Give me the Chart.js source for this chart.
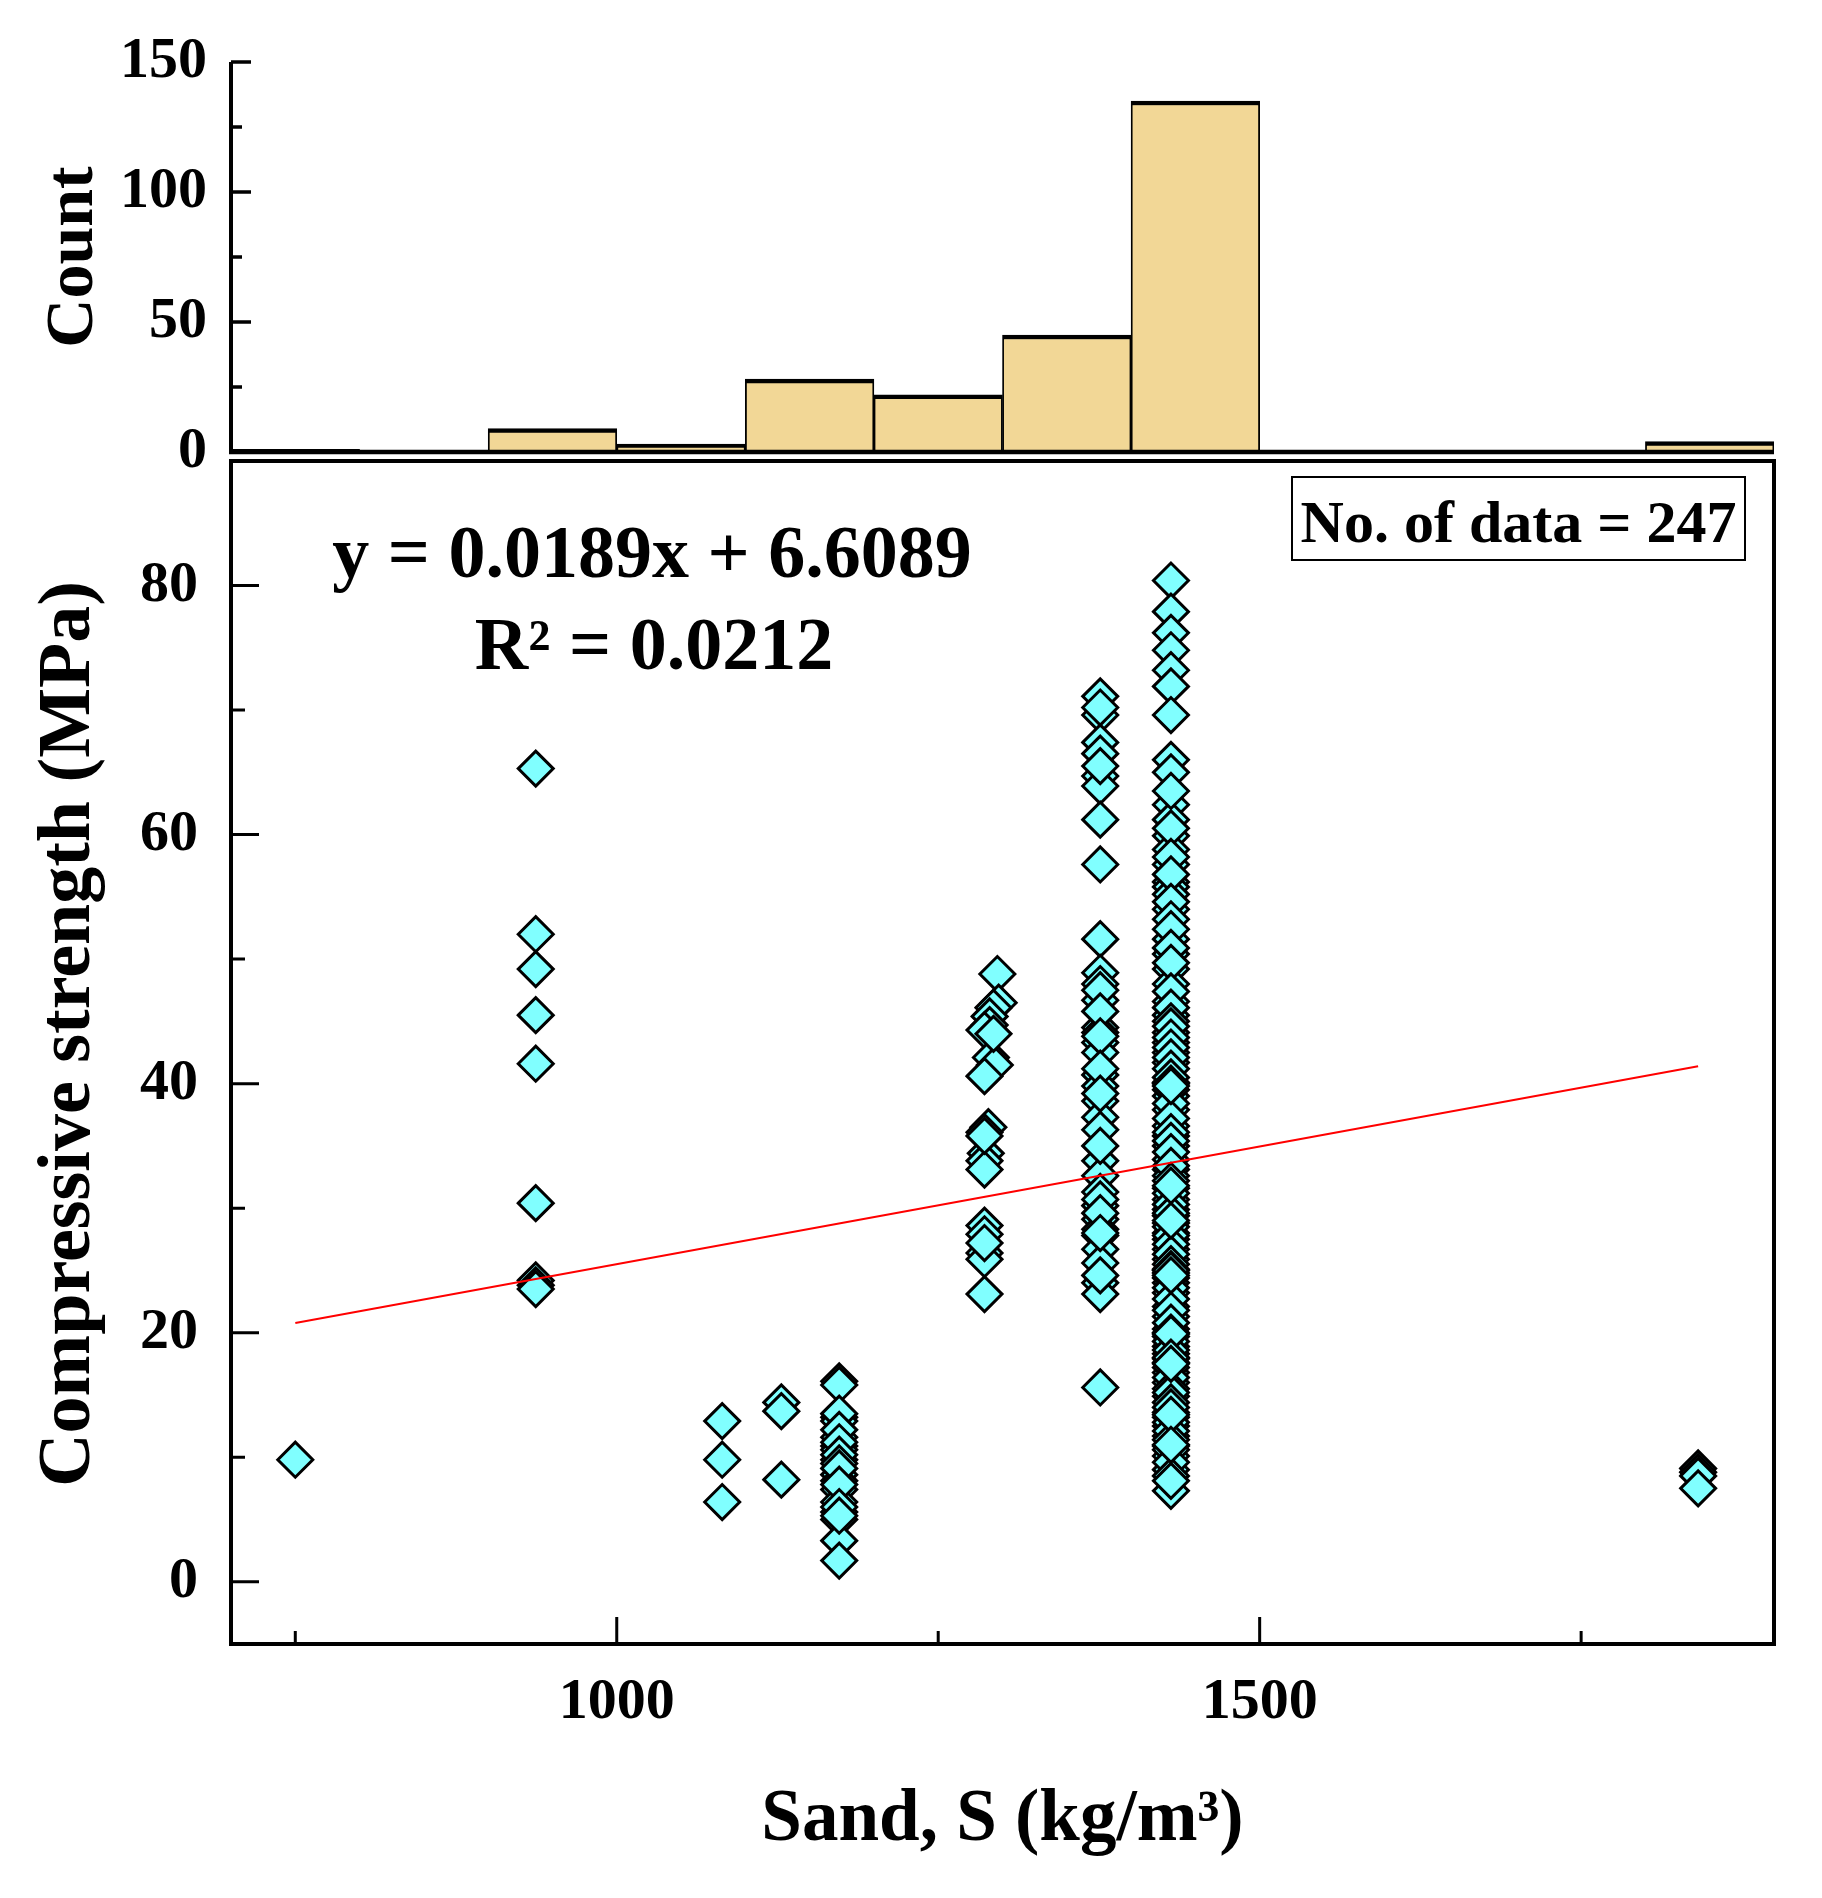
<!DOCTYPE html>
<html><head><meta charset="utf-8">
<script src="https://cdn.jsdelivr.net/npm/chart.js@4.4.1/dist/chart.umd.min.js"></script>
<style>
html,body{margin:0;padding:0;background:#fff;}
#wrap{position:relative;width:1822px;height:1898px;overflow:hidden;background:#fff;}
canvas{position:absolute;left:0;}
#hist{top:0;}
#scat{top:400px;}
</style></head><body>
<div id="wrap"><canvas id="hist" width="1822" height="520"></canvas><canvas id="scat" width="1822" height="1498"></canvas></div>
<script>
// ---------- Histogram data ----------
const binCenters = [750, 850, 950, 1050, 1150, 1250, 1350, 1450, 1550, 1650, 1750, 1850];
const binCounts  = [1, 0, 9, 3, 28, 22, 45, 135, 0, 0, 0, 4];
const countTicks = [0, 50, 100, 150];
const countMinorTicks = [25, 75, 125];

// ---------- Scatter data (sand, strength) ----------
const sandA = 750;   const strengthA = [9.8];
const sandB = 937;   const strengthB = [65.3, 52.0, 49.2, 45.5, 41.6, 30.4, 24.2, 23.8, 23.5];
const sandC = 1082;  const strengthC = [12.9, 9.8, 6.4];
const sandD = 1128;  const strengthD = [14.4, 13.7, 8.2];
const sandE = 1173;  const strengthE = [16.1, 13.2, 12.9, 11.6, 10.9, 10.6, 9.8, 8.6, 8.1, 7.4, 6.4, 5.6, 5.0, 3.3, 1.7,
                                        15.8, 13.5, 12.2, 11.2, 10.2, 9.5, 9.1, 7.8, 6.0, 5.3];
const sandF = [1296, 1297, 1293, 1290, 1290, 1286, 1291, 1294, 1286, 1289, 1286, 1287, 1286, 1286, 1286, 1286, 1286, 1286, 1286, 1293, 1286, 1286];
const strengthF = [48.8, 46.5, 46.1, 45.4, 44.7, 44.3, 42.1, 41.5, 40.6, 36.5, 36.1, 34.4, 33.8, 33.1, 28.6, 27.9, 26.4, 25.9, 23.1, 44.0, 35.8, 27.2];
const sandG = 1376;  const strengthG = [71.1, 69.6, 67.4, 66.5, 64.7, 63.9, 61.2, 57.6, 51.6, 48.9,
                                        48.0, 46.7, 44.5, 44.1, 43.3, 42.5, 40.7, 39.8, 38.6, 37.3,
                                        36.3, 33.8, 32.6, 31.3, 30.2, 29.1, 28.3, 27.8, 26.7, 25.6,
                                        24.0, 23.1, 15.6,
                                        70.2, 65.5, 47.5, 45.8, 43.8, 41.2, 39.2, 35.0, 30.7, 29.6, 28.0, 24.6];
const sandH = 1431;  const strengthH = [80.4, 77.9, 76.2, 74.8, 73.2, 71.9, 69.6, 66.0, 65.0, 62.4,
                                        61.2, 59.9, 58.8, 57.6, 56.2, 55.8, 55.2, 54.0, 51.6, 50.4,
                                        49.2, 48.0, 46.6, 45.5, 44.1,
                                        43.3, 42.5, 41.7, 40.1, 39.0, 37.9, 36.6, 35.8, 35.0, 33.9,
                                        33.1, 32.6, 31.6, 30.7, 29.9, 29.4, 28.8, 28.0, 27.5, 26.7,
                                        25.9, 24.8, 24.0, 23.2, 22.1, 21.3, 20.3, 18.9, 18.3, 17.6,
                                        16.8, 16.0, 14.9, 13.6, 12.5, 11.7, 10.9, 10.1, 9.0, 7.3,
                                        63.5, 60.5, 58.2, 56.8, 54.6, 53.2, 52.4, 50.9, 49.7, 47.4,
                                        46.1, 45.0, 44.6, 43.7, 42.9, 42.1, 41.2, 40.5, 39.5, 38.4,
                                        37.2, 36.1, 35.4, 34.5, 33.4, 32.2, 31.2, 30.3, 29.6, 28.5,
                                        27.8, 27.1, 26.3, 25.5, 25.1, 24.4, 23.6, 22.7, 21.8, 20.8,
                                        19.7, 19.3, 18.6, 17.9, 17.2, 16.4, 15.5, 15.2, 14.4, 14.0,
                                        13.2, 12.8, 12.1, 11.4, 10.6, 9.6, 8.5, 8.1, 40.0, 39.8,
                                        31.8, 29.0, 25.0, 24.6, 20.0, 19.9, 18.0, 17.5, 13.4, 11.0];
const sandI = 1841;  const strengthI = [9.1, 8.8, 8.5, 7.5];

const sandTicks = [1000, 1500];
const sandMinorTicks = [750, 1250, 1750];
const strengthTicks = [0, 20, 40, 60, 80];
const strengthMinorTicks = [10, 30, 50, 70];

const fitSlope = 0.0189, fitIntercept = 6.6089;
const fitR2 = '0.0212';
const fitRange = [750, 1841];
const dataCount = 247;

// ---------- build ----------
const FONT = 'Liberation Serif';
Chart.defaults.font.family = FONT;
Chart.defaults.font.weight = 'bold';
Chart.defaults.color = '#000';

function col(x, ys) { return ys.map(y => ({x: x, y: y})); }
const points = [].concat(
  col(sandA, strengthA), col(sandB, strengthB), col(sandC, strengthC), col(sandD, strengthD),
  col(sandE, strengthE), sandF.map((x, i) => ({x: x, y: strengthF[i]})),
  col(sandG, strengthG), col(sandH, strengthH), col(sandI, strengthI)
);
const fitLine = fitRange.map(x => ({x: x, y: fitSlope * x + fitIntercept}));
const histData = binCenters.map((x, i) => ({x: x, y: binCounts[i]}));

function tickLines(ctx, scale, values, len, horiz, area) {
  ctx.beginPath();
  values.forEach(v => {
    const p = scale.getPixelForValue(v);
    if (horiz) { ctx.moveTo(p, area.bottom); ctx.lineTo(p, area.bottom - len); }
    else { ctx.moveTo(area.left, p); ctx.lineTo(area.left + len, p); }
  });
  ctx.stroke();
}

const histAxes = {
  id: 'histAxes',
  afterDatasetsDraw(chart) {
    const ctx = chart.ctx, a = chart.chartArea, y = chart.scales.y;
    ctx.save();
    ctx.strokeStyle = '#000';
    ctx.lineWidth = 3.5;
    tickLines(ctx, y, countTicks, 20, false, a);
    tickLines(ctx, y, countMinorTicks, 11, false, a);
    ctx.lineWidth = 4;
    ctx.beginPath();
    ctx.moveTo(a.left, a.top); ctx.lineTo(a.left, a.bottom + 2);
    ctx.stroke();
    ctx.lineWidth = 4.5;
    ctx.beginPath();
    ctx.moveTo(a.left - 2, a.bottom); ctx.lineTo(a.right, a.bottom);
    ctx.stroke();
    ctx.restore();
  }
};

new Chart(document.getElementById('hist'), {
  type: 'bar',
  data: { datasets: [{
    data: histData,
    backgroundColor: '#F2D796',
    borderColor: '#000',
    borderWidth: {top: 4.5, left: 1.8, right: 1.8, bottom: 0},
    borderSkipped: 'start',
    barPercentage: 1, categoryPercentage: 1
  }]},
  options: {
    responsive: false, animation: false, devicePixelRatio: 1,
    layout: { padding: {left: 0, right: 48, top: 62, bottom: 68} },
    plugins: { legend: {display: false}, tooltip: {enabled: false} },
    scales: {
      x: { type: 'linear', min: 700, max: 1900, offset: false, display: false, ticks: {stepSize: 100} },
      y: {
        min: 0, max: 150,
        afterFit: s => { s.width = 231; },
        afterBuildTicks: s => { s.ticks = countTicks.map(v => ({value: v})); },
        grid: {display: false}, border: {display: false},
        ticks: { font: {size: 58, weight: 'bold'}, padding: 16 },
        title: { display: true, text: 'Count', font: {size: 68, weight: 'bold', lineHeight: 1}, padding: {top: 40, bottom: 0} }
      }
    }
  },
  plugins: [histAxes]
});

const scatAxes = {
  id: 'scatAxes',
  afterDatasetsDraw(chart) {
    const ctx = chart.ctx, a = chart.chartArea, x = chart.scales.x, y = chart.scales.y;
    ctx.save();
    ctx.strokeStyle = '#000';
    ctx.lineWidth = 3;
    tickLines(ctx, y, strengthTicks, 28, false, a);
    tickLines(ctx, y, strengthMinorTicks, 14, false, a);
    tickLines(ctx, x, sandTicks, 27, true, a);
    tickLines(ctx, x, sandMinorTicks, 13, true, a);
    ctx.lineWidth = 4;
    ctx.strokeRect(a.left, a.top, a.right - a.left, a.bottom - a.top);
    // annotations
    ctx.fillStyle = '#000';
    ctx.textAlign = 'center';
    ctx.textBaseline = 'alphabetic';
    ctx.font = 'bold 74px "' + FONT + '"';
    ctx.fillText('y = ' + fitSlope.toFixed(4) + 'x + ' + fitIntercept.toFixed(4), a.left + 421, a.top + 116);
    ctx.fillText('R\u00B2 = ' + fitR2, a.left + 423, a.top + 208);
    ctx.lineWidth = 2;
    const bx0 = a.left + 1061, bx1 = a.right - 29, by0 = a.top + 16, by1 = a.top + 99;
    ctx.strokeRect(bx0, by0, bx1 - bx0, by1 - by0);
    ctx.font = 'bold 60px "' + FONT + '"';
    ctx.fillText('No. of data = ' + dataCount, (bx0 + bx1) / 2, a.top + 81);
    ctx.restore();
  }
};

new Chart(document.getElementById('scat'), {
  type: 'scatter',
  data: { datasets: [
    { type: 'line', data: fitLine, borderColor: '#FF0000', borderWidth: 2, pointRadius: 0, fill: false, order: 0 },
    { data: points, pointStyle: 'rectRot', pointRadius: 17.5, pointHoverRadius: 17.5,
      backgroundColor: '#80FFFF', borderColor: '#000', borderWidth: 3, order: 1 }
  ]},
  options: {
    responsive: false, animation: false, devicePixelRatio: 1,
    layout: { padding: {left: 0, right: 48, top: 61, bottom: 0} },
    plugins: { legend: {display: false}, tooltip: {enabled: false} },
    scales: {
      x: {
        type: 'linear', min: 700, max: 1900,
        afterFit: s => { s.height = 254; },
        afterBuildTicks: s => { s.ticks = sandTicks.map(v => ({value: v})); },
        grid: {display: false}, border: {display: false},
        ticks: { font: {size: 58, weight: 'bold'}, padding: 16, maxRotation: 0, minRotation: 0, autoSkip: false,
                 callback: v => String(v) },
        title: { display: true, text: 'Sand, S (kg/m\u00B3)', font: {size: 73, weight: 'bold', lineHeight: 1}, padding: {top: 0, bottom: 40} }
      },
      y: {
        min: -5, max: 90,
        afterFit: s => { s.width = 231; },
        afterBuildTicks: s => { s.ticks = strengthTicks.map(v => ({value: v})); },
        grid: {display: false}, border: {display: false},
        ticks: { font: {size: 58, weight: 'bold'}, padding: 25 },
        title: { display: true, text: '  Compressive strength (MPa)', font: {size: 74, weight: 'bold', lineHeight: 1}, padding: {top: 33, bottom: 0} }
      }
    }
  },
  plugins: [scatAxes]
});
</script>
</body></html>
